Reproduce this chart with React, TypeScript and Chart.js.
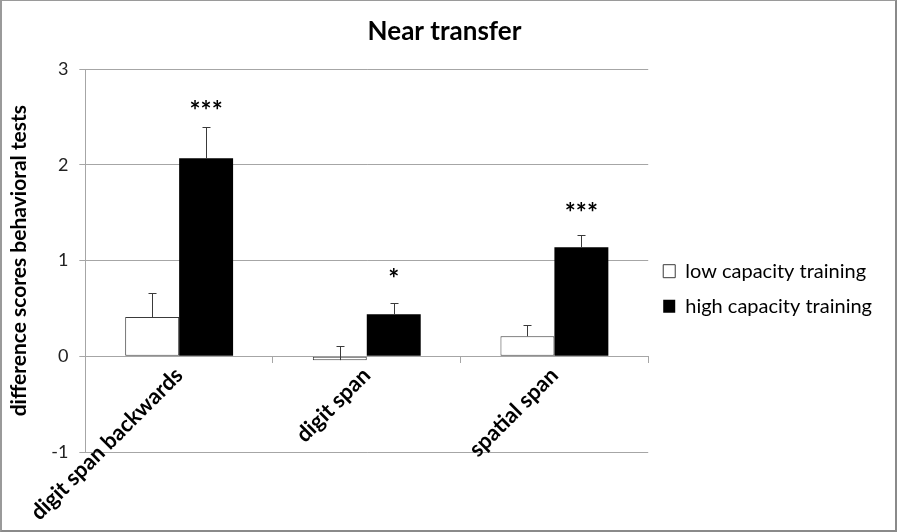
import React, { useEffect, useRef } from "react";
import { Chart, registerables } from "chart.js";

Chart.register(...registerables);

const categories = ["digit span backwards", "digit span", "spatial span"];
const seriesLabels = ["low capacity training", "high capacity training"];
const lowValues = [0.41, -0.04, 0.21];
const highValues = [2.07, 0.44, 1.14];
const lowErrors = [0.25, 0.15, 0.12];
const highErrors = [0.33, 0.12, 0.13];
const significance = ["***", "*", "***"];
const significanceLevels = [2.62, 0.86, 1.55];
const yMin = -1;
const yMax = 3;
const yStep = 1;
const chartTitle = "Near transfer";
const yTitle = "difference scores behavioral tests";

const FONT = "Lato, 'Open Sans', sans-serif";

const errorBarPlugin = {
  id: "errorBars",
  afterDatasetsDraw(chart: any) {
    const { ctx } = chart;
    const yScale = chart.scales.y;
    const errs = [lowErrors, highErrors];
    chart.data.datasets.forEach((ds: any, di: number) => {
      const meta = chart.getDatasetMeta(di);
      meta.data.forEach((bar: any, i: number) => {
        const v = ds.data[i] as number;
        const top = yScale.getPixelForValue(v + errs[di][i]);
        const base = yScale.getPixelForValue(v);
        const x = Math.round(bar.x) + 0.5;
        ctx.save();
        ctx.strokeStyle = "#3a3a3a";
        ctx.lineWidth = 1;
        ctx.beginPath();
        ctx.moveTo(x, base);
        ctx.lineTo(x, Math.round(top) + 0.5);
        ctx.moveTo(x - 4, Math.round(top) + 0.5);
        ctx.lineTo(x + 4, Math.round(top) + 0.5);
        ctx.stroke();
        ctx.restore();
      });
    });
    // significance stars above the high capacity bars
    const meta = chart.getDatasetMeta(1);
    meta.data.forEach((bar: any, i: number) => {
      const y = yScale.getPixelForValue(significanceLevels[i]);
      ctx.save();
      ctx.fillStyle = "#000";
      ctx.font = `bold 26px ${FONT}`;
      ctx.textAlign = "center";
      ctx.textBaseline = "alphabetic";
      ctx.fillText(significance[i], bar.x, y + 14);
      ctx.restore();
    });
  },
};

export default function App() {
  const canvasRef = useRef<HTMLCanvasElement | null>(null);

  useEffect(() => {
    document.body.style.margin = "0";
    const canvas = canvasRef.current;
    if (!canvas) return;
    const chart = new Chart(canvas, {
      type: "bar",
      data: {
        labels: categories,
        datasets: [
          {
            label: seriesLabels[0],
            data: lowValues,
            backgroundColor: "#ffffff",
            borderColor: "#3a3a3a",
            borderWidth: 1,
            borderSkipped: false,
          },
          {
            label: seriesLabels[1],
            data: highValues,
            backgroundColor: "#000000",
            borderColor: "#000000",
            borderWidth: 0,
          },
        ],
      },
      options: {
        animation: false,
        responsive: true,
        maintainAspectRatio: false,
        layout: { padding: { left: 5, right: 13, top: 0, bottom: 78 } },
        datasets: {
          bar: { categoryPercentage: 0.575, barPercentage: 1.0 },
        },
        plugins: {
          title: {
            display: true,
            text: chartTitle,
            color: "#000",
            font: { family: FONT, size: 26, weight: "bold" },
            padding: { top: 15, bottom: 22 },
          },
          legend: {
            display: true,
            position: "right",
            align: "center",
            maxWidth: 280,
            title: {
              display: true,
              text: "",
              padding: 55,
              font: { family: FONT, size: 12 },
            },
            labels: {
              color: "#000",
              font: { family: FONT, size: 20 },
              boxWidth: 12,
              boxHeight: 13,
              padding: 15,
            },
          },
          tooltip: { enabled: false },
        },
        scales: {
          x: {
            position: { y: 0 } as any,
            grid: {
              offset: true,
              drawOnChartArea: false,
              drawTicks: true,
              tickLength: 6,
              color: "#a6a6a6",
            },
            border: { display: true, color: "#a6a6a6" },
            ticks: {
              color: "#000",
              font: { family: FONT, size: 22, weight: "bold" },
              minRotation: 45,
              maxRotation: 45,
              padding: 0,
            },
          },
          y: {
            min: yMin,
            max: yMax,
            grid: { color: "#a6a6a6", tickLength: 6 },
            border: { display: true, color: "#a6a6a6" },
            ticks: {
              stepSize: yStep,
              color: "#222",
              font: { family: FONT, size: 18 },
              padding: 11,
            },
            title: {
              display: true,
              text: yTitle,
              color: "#000",
              font: { family: FONT, size: 21, weight: "bold" },
              padding: { top: 0, bottom: 8 },
            },
          },
        },
      },
      plugins: [errorBarPlugin],
    });
    return () => chart.destroy();
  }, []);

  return (
    <div
      style={{
        width: 897,
        height: 532,
        boxSizing: "border-box",
        borderTop: "1px solid #9a9a9a",
        borderLeft: "2px solid #9a9a9a",
        borderRight: "2px solid #8a8a8a",
        borderBottom: "2px solid #8a8a8a",
        background: "#fff",
        position: "relative",
      }}
    >
      <canvas ref={canvasRef} />
    </div>
  );
}
